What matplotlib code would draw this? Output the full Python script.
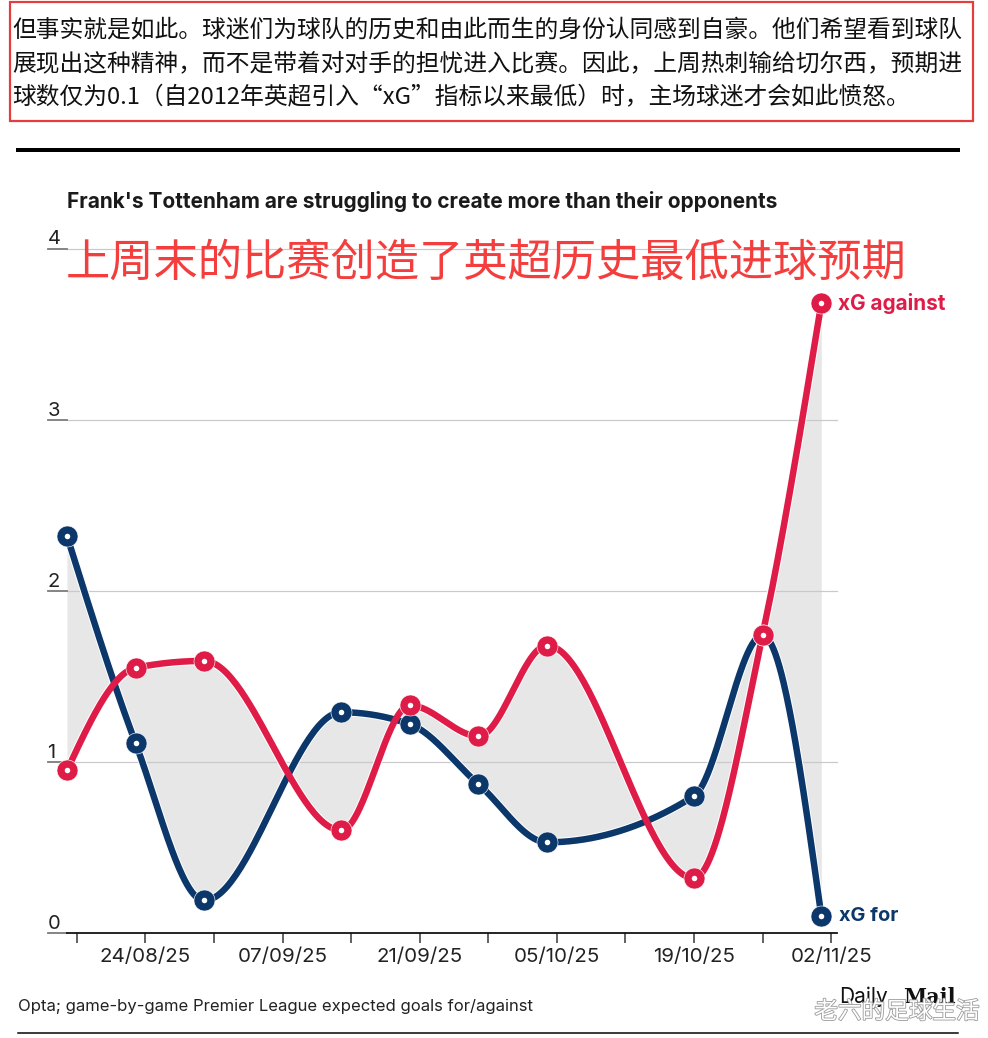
import numpy as np
import matplotlib
matplotlib.use("Agg")
import matplotlib.pyplot as plt
import matplotlib.dates as mdates
import matplotlib.transforms as mtransforms
import matplotlib.patheffects as pe
from matplotlib.patches import Rectangle
from matplotlib.lines import Line2D

# ---------------- data ----------------
match_dates = ['2025-08-16', '2025-08-23', '2025-08-30', '2025-09-13', '2025-09-20',
               '2025-09-27', '2025-10-04', '2025-10-19', '2025-10-26', '2025-11-01']
xg_for = [2.32, 1.11, 0.19, 1.29, 1.22, 0.87, 0.53, 0.80, 1.74, 0.10]
xg_against = [0.95, 1.55, 1.59, 0.60, 1.33, 1.15, 1.68, 0.32, 1.74, 3.68]
tick_dates = ['2025-08-17', '2025-08-24', '2025-08-31', '2025-09-07', '2025-09-14',
              '2025-09-21', '2025-09-28', '2025-10-05', '2025-10-12', '2025-10-19',
              '2025-10-26', '2025-11-02']
labelled_ticks = ['2025-08-24', '2025-09-07', '2025-09-21', '2025-10-05', '2025-10-19', '2025-11-02']
tick_label_fmt = '%d/%m/%y'
y_ticks = [0, 1, 2, 3, 4]

intro_lines = [
    "但事实就是如此。球迷们为球队的历史和由此而生的身份认同感到自豪。他们希望看到球队",
    "展现出这种精神，而不是带着对对手的担忧进入比赛。因此，上周热刺输给切尔西，预期进",
    "球数仅为0.1（自2012年英超引入“xG”指标以来最低）时，主场球迷才会如此愤怒。",
]
title = "Frank's Tottenham are struggling to create more than their opponents"
annotation = "上周末的比赛创造了英超历史最低进球预期"
source = "Opta; game-by-game Premier League expected goals for/against"
watermark = "老六的足球生活"

NAVY = '#0c376b'
RED = '#df1c47'
FILL = '#e7e7e7'

W, H = 988, 1038
fig = plt.figure(figsize=(W / 100, H / 100), dpi=100)
fig.patch.set_facecolor('white')


def fx(x):
    return x / W


def fy(y):
    return 1 - y / H


def px2pt(p):
    return p * 72 / 100


# ---------------- monotone-x interpolation (d3 curveMonotoneX) ----------------
def monotone_x(x, y, n=60):
    x = np.asarray(x, float)
    y = np.asarray(y, float)
    N = len(x)
    h = np.diff(x)
    s = np.diff(y) / h
    t = np.zeros(N)
    for i in range(1, N - 1):
        h0, h1 = h[i - 1], h[i]
        s0, s1 = s[i - 1], s[i]
        p = (s0 * h1 + s1 * h0) / (h0 + h1)
        sg0 = -1 if s0 < 0 else 1
        sg1 = -1 if s1 < 0 else 1
        t[i] = (sg0 + sg1) * min(abs(s0), abs(s1), 0.5 * abs(p))
    t[0] = (3 * s[0] - t[1]) / 2
    t[-1] = (3 * s[-1] - t[-2]) / 2
    xs, ys = [], []
    for i in range(N - 1):
        u = np.linspace(0, 1, n, endpoint=(i == N - 2))
        h00 = 2 * u ** 3 - 3 * u ** 2 + 1
        h10 = u ** 3 - 2 * u ** 2 + u
        h01 = -2 * u ** 3 + 3 * u ** 2
        h11 = u ** 3 - u ** 2
        xs.append(x[i] + u * h[i])
        ys.append(h00 * y[i] + h10 * h[i] * t[i] + h01 * y[i + 1] + h11 * h[i] * t[i + 1])
    return np.concatenate(xs), np.concatenate(ys)


xd = mdates.date2num(np.array(match_dates, dtype='datetime64[D]'))
xt = mdates.date2num(np.array(tick_dates, dtype='datetime64[D]'))
xl = mdates.date2num(np.array(labelled_ticks, dtype='datetime64[D]'))

cx_f, cy_f = monotone_x(xd, xg_for)
cx_a, cy_a = monotone_x(xd, xg_against)

# ---------------- axes ----------------
ax_left, ax_right, ax_top, ax_bottom = 67, 837, 248.5, 933
ax = fig.add_axes([fx(ax_left), fy(ax_bottom), (ax_right - ax_left) / W, (ax_bottom - ax_top) / H])
ax.set_facecolor('none')
ax.set_xlim(xd[0], xt[-1] + 0.6)
ax.set_ylim(0, 4)

ax.fill_between(cx_f, cy_f, cy_a, color=FILL, lw=0, zorder=1)

# gridlines + left tick segments
blend = mtransforms.blended_transform_factory(fig.transFigure, ax.transData)
for v in y_ticks:
    if v > 0:
        ax.add_line(Line2D([fx(67), fx(ax_right)], [v, v], transform=blend, color='#c9c9c9',
                           lw=px2pt(1.2), zorder=1.5, clip_on=False))
    ax.add_line(Line2D([fx(48), fx(67)], [v, v], transform=blend, color='#7a7a7a',
                       lw=px2pt(1.8), zorder=1.5, clip_on=False))
    ax.text(fx(47.5), v, str(v), transform=blend, ha='left', va='bottom', fontsize=14.5,
            family='Inter', color='#222222')

# lines with white halo
for cx, cy, c in [(cx_f, cy_f, NAVY), (cx_a, cy_a, RED)]:
    ax.plot(cx, cy, color='white', lw=px2pt(8.5), solid_capstyle='round', zorder=3, clip_on=False)
    ax.plot(cx, cy, color=c, lw=px2pt(6.5), solid_capstyle='round', zorder=3.1, clip_on=False)

for vals, c, z in [(xg_for, NAVY, 4), (xg_against, RED, 5)]:
    ax.scatter(xd, vals, s=px2pt(21) ** 2, color=c, edgecolor='white', linewidth=px2pt(0.6),
               zorder=z, clip_on=False)
    ax.scatter(xd, vals, s=px2pt(5.5) ** 2, color='white', linewidth=0, zorder=z + 0.1, clip_on=False)

# series labels
ax.annotate('xG against', (xd[-1], xg_against[-1]), xytext=(px2pt(17), 0), textcoords='offset points',
            ha='left', va='center', fontsize=14.9, fontweight='bold', family='Inter', color=RED)
ax.annotate('xG for', (xd[-1], xg_for[-1]), xytext=(px2pt(18), 0), textcoords='offset points',
            ha='left', va='center', fontsize=14.3, fontweight='bold', family='Inter', color=NAVY)

# x axis
for sp in ['top', 'right', 'left']:
    ax.spines[sp].set_visible(False)
ax.spines['bottom'].set_color('#111111')
ax.spines['bottom'].set_linewidth(px2pt(1.8))
ax.spines['bottom'].set_zorder(2)
ax.set_yticks([])
ax.set_xticks(xl)
ax.set_xticks([v for v in xt if v not in set(xl)], minor=True)
ax.set_xticklabels([mdates.num2date(v).strftime(tick_label_fmt) for v in xl])
ax.tick_params(axis='x', which='both', length=px2pt(10), width=px2pt(1.5), color='#333333',
               direction='out', pad=px2pt(5))
ax.tick_params(axis='x', which='major', labelsize=14.8, labelcolor='#222222')
for lab in ax.get_xticklabels():
    lab.set_family('Inter')

# ---------------- texts ----------------
fig.patches.append(Rectangle((fx(10), fy(121)), (973 - 10) / W, (121 - 2) / H, transform=fig.transFigure,
                             fill=False, edgecolor='#e83b3b', lw=px2pt(2.2)))
for i, line in enumerate(intro_lines):
    fig.text(fx(12), fy(30 + 34 * i), line, ha='left', va='center', fontsize=17.1,
             family=['Noto Sans CJK SC', 'DejaVu Sans'], color='#111111')

fig.lines.append(Line2D([fx(18), fx(958)], [fy(150), fy(150)], transform=fig.transFigure,
                        color='black', lw=px2pt(4)))

fig.text(fx(67), fy(201), title, ha='left', va='center', fontsize=15, fontweight='bold',
         family='Inter', color='#1a1a1a')
fig.text(fx(66), fy(263), annotation, ha='left', va='center', fontsize=31.9,
         family=['Noto Sans CJK SC', 'DejaVu Sans'], color='#f43e3e')

fig.text(fx(18), fy(1006), source, ha='left', va='center', fontsize=12, family='Inter', color='#222222')
fig.lines.append(Line2D([fx(18), fx(958)], [fy(1033), fy(1033)], transform=fig.transFigure,
                        color='black', lw=px2pt(1.5)))

fig.text(fx(839), fy(997), 'Daily', ha='left', va='center', fontsize=15, family='Inter', color='#111111')
fig.text(fx(956), fy(997), 'Mail', ha='right', va='center', fontsize=15, fontweight='bold',
         family='DejaVu Serif', color='#111111')
fig.text(fx(897), fy(1012), watermark, ha='center', va='center', fontsize=17,
         family=['Noto Sans CJK SC', 'DejaVu Sans'], color='white',
         path_effects=[pe.withStroke(linewidth=1.2, foreground='#9a9a9a')])

fig.savefig('out.png', dpi=100, facecolor='white')
